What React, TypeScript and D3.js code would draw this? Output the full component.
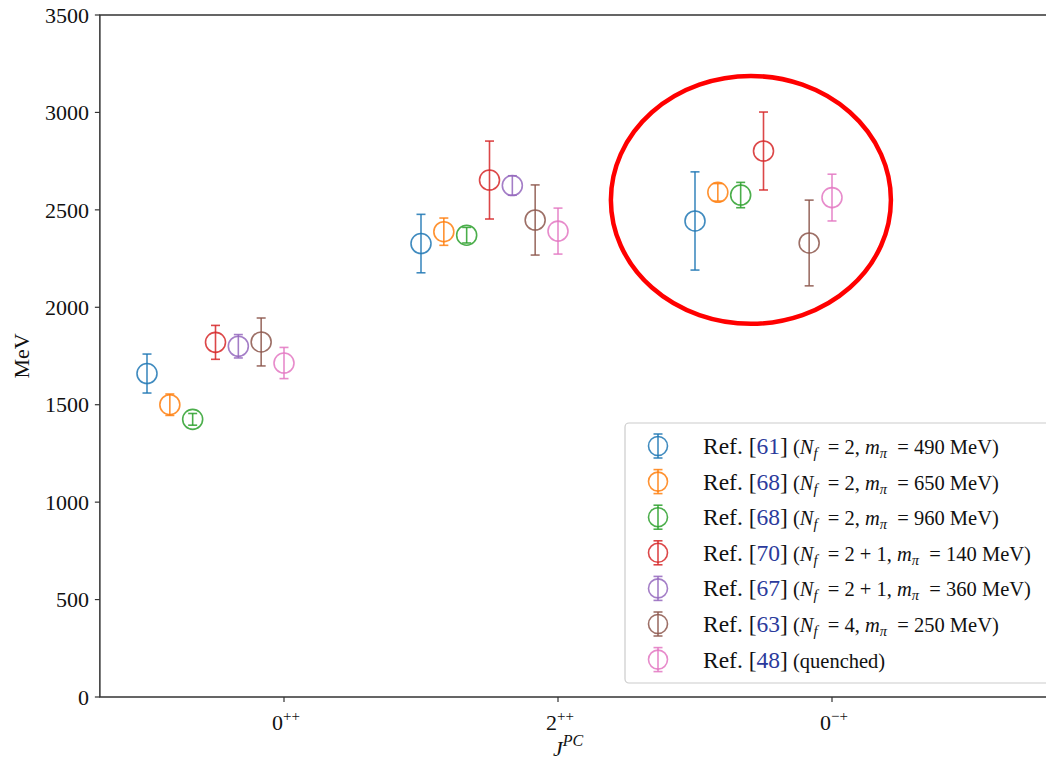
import React from 'react';
import * as d3 from 'd3';

// categories on the x axis: [base, superscript]
const categories: [string, string][] = [['0', '++'], ['2', '++'], ['0', '\u2212+']];

const seriesColors = ['#1f77b4', '#ff7f0e', '#2ca02c', '#d62728', '#9467bd', '#8c564b', '#e377c2'];
const seriesRefs = ['61', '68', '68', '70', '67', '63', '48'];
// [Nf, m_pi] per series, null for quenched
const seriesParams: ([string, string] | null)[] = [
  ['2', '490'],
  ['2', '650'],
  ['2', '960'],
  ['2 + 1', '140'],
  ['2 + 1', '360'],
  ['4', '250'],
  null,
];

// masses (MeV) per series for 0++, 2++, 0-+
const masses: (number | null)[][] = [
  [1660, 2327, 2443],
  [1500, 2388, 2590],
  [1425, 2370, 2576],
  [1820, 2653, 2802],
  [1800, 2625, null],
  [1822, 2448, 2330],
  [1714, 2391, 2563],
];
const errors: (number | null)[][] = [
  [100, 150, 252],
  [55, 70, 45],
  [30, 40, 65],
  [87, 200, 200],
  [60, 50, null],
  [123, 180, 220],
  [80, 118, 120],
];

const yTicks = [0, 500, 1000, 1500, 2000, 2500, 3000, 3500];

const W = 1046;
const H = 764;
const serif = '"Liberation Serif", "Times New Roman", serif';

const App: React.FC = () => {
  const x = d3.scaleLinear().domain([0, 2]).range([284, 832]);
  const y = d3.scaleLinear().domain([0, 3500]).range([697, 15]);
  const xLeft = x(-0.672);
  const xRight = x(2.8);
  const r = 10;
  const cap = 4.5;

  const legendX = 625;
  const legendY = 423;
  const rowH = 35.6;

  return (
    <svg
      width={W}
      height={H}
      style={{ position: 'fixed', left: 0, top: 0, background: '#fff' }}
      fontFamily={serif}
    >
      <rect x={0} y={0} width={W} height={H} fill="#fff" />

      {/* data points */}
      {masses.map((row, si) =>
        row.map((m, ci) => {
          if (m == null) return null;
          const e = errors[si][ci] as number;
          const cx = x(ci + (si - 6) / 12);
          const cy = y(m);
          const c = seriesColors[si];
          return (
            <g key={`${si}-${ci}`} stroke={c} strokeOpacity={0.85} strokeWidth={1.6} fill="none">
              <line x1={cx} x2={cx} y1={y(m - e)} y2={y(m + e)} />
              <line x1={cx - cap} x2={cx + cap} y1={y(m - e)} y2={y(m - e)} />
              <line x1={cx - cap} x2={cx + cap} y1={y(m + e)} y2={y(m + e)} />
              <circle cx={cx} cy={cy} r={r} />
            </g>
          );
        })
      )}

      {/* axes frame */}
      <rect x={xLeft} y={15} width={xRight - xLeft} height={682} fill="none" stroke="#333" strokeWidth={1.5} />

      {/* y ticks */}
      {yTicks.map(t => (
        <g key={t}>
          <line x1={xLeft - 5} x2={xLeft} y1={y(t)} y2={y(t)} stroke="#333" strokeWidth={1.2} />
          <text x={89} y={y(t)} dy="0.35em" textAnchor="end" fontSize={22} fill="#111">
            {t}
          </text>
        </g>
      ))}
      <text
        transform={`translate(29,${y(1750)}) rotate(-90)`}
        textAnchor="middle"
        fontSize={22}
        fill="#111"
      >
        MeV
      </text>

      {/* x ticks */}
      {categories.map(([b, s], i) => (
        <g key={i}>
          <line x1={x(i)} x2={x(i)} y1={697} y2={702} stroke="#333" strokeWidth={1.2} />
          <text x={x(i) - 12} y={730} fontSize={22} fill="#111">
            {b}
            <tspan fontSize={15} dy={-9}>
              {s}
            </tspan>
          </text>
        </g>
      ))}
      <text x={553} y={756} fontSize={22} fill="#111" fontStyle="italic">
        J
        <tspan fontSize={16} dy={-10}>
          PC
        </tspan>
      </text>

      {/* highlight ellipse */}
      <ellipse
        cx={x(1.704)}
        cy={y(2551)}
        rx={x(1.704 + 0.511) - x(1.704)}
        ry={y(2551) - y(2551 + 636)}
        fill="none"
        stroke="#ff0000"
        strokeWidth={4.5}
      />

      {/* legend */}
      <rect
        x={legendX}
        y={legendY}
        width={W - legendX + 10}
        height={260}
        rx={4}
        fill="#fff"
        fillOpacity={0.8}
        stroke="#ccc"
        strokeWidth={1.2}
      />
      {seriesColors.map((c, i) => {
        const ly = legendY + 23 + i * rowH;
        const mx = 658;
        const p = seriesParams[i];
        return (
          <g key={c}>
            <g stroke={c} strokeOpacity={0.85} strokeWidth={1.6} fill="none">
              <line x1={mx} x2={mx} y1={ly - 12} y2={ly + 12} />
              <line x1={mx - cap} x2={mx + cap} y1={ly - 12} y2={ly - 12} />
              <line x1={mx - cap} x2={mx + cap} y1={ly + 12} y2={ly + 12} />
              <circle cx={mx} cy={ly} r={9.5} />
            </g>
            <text x={703} y={ly + 8} fontSize={23.5} fill="#111">
              Ref. [<tspan fill="#2b3a9c">{seriesRefs[i]}</tspan>]
              {p ? (
                <tspan fontSize={20.5}>
                  {' ('}
                  <tspan fontStyle="italic">N</tspan>
                  <tspan fontStyle="italic" fontSize={14.5} dy={4}>
                    f
                  </tspan>
                  <tspan dy={-4}>{`\u2002= ${p[0]}, `}</tspan>
                  <tspan fontStyle="italic">m</tspan>
                  <tspan fontStyle="italic" fontSize={14.5} dy={4}>
                    {'\u03c0'}
                  </tspan>
                  <tspan dy={-4}>{`\u2002= ${p[1]} MeV)`}</tspan>
                </tspan>
              ) : (
                <tspan fontSize={20.5}> (quenched)</tspan>
              )}
            </text>
          </g>
        );
      })}
    </svg>
  );
};

export default App;
